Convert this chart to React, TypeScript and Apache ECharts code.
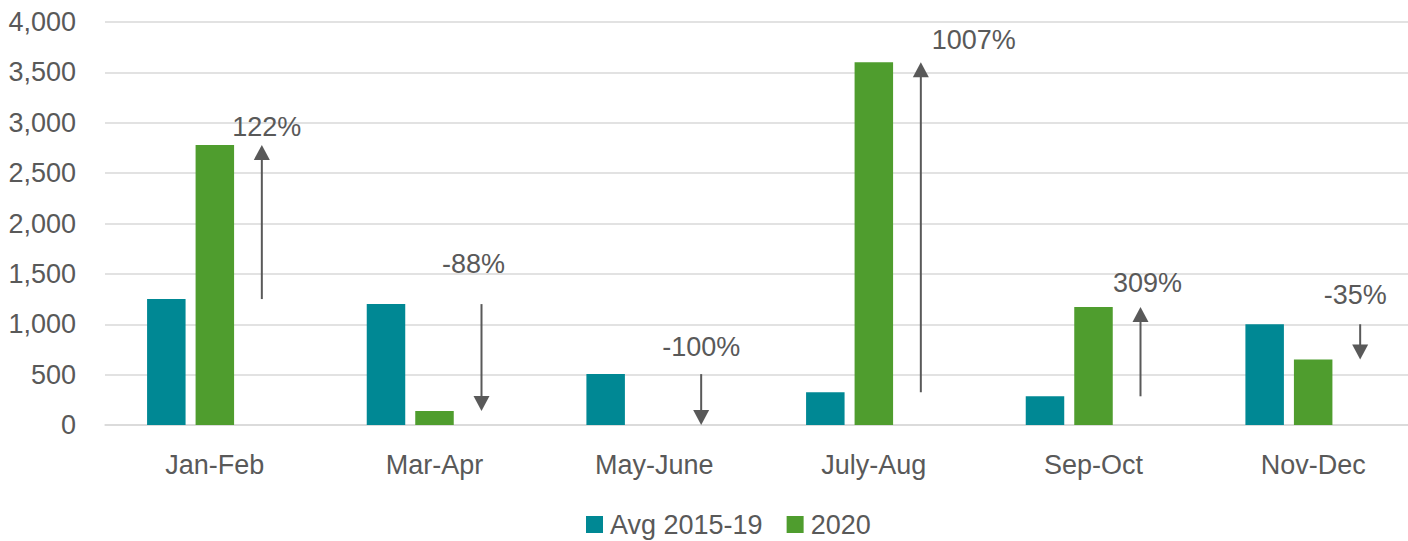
import React, { useEffect, useRef } from "react";
import * as echarts from "echarts";

const categories = ["Jan-Feb", "Mar-Apr", "May-June", "July-Aug", "Sep-Oct", "Nov-Dec"];
const avg2015to19 = [1250, 1200, 505, 325, 285, 1000];
const values2020 = [2780, 140, 0, 3600, 1170, 650];
const changeLabels = ["122%", "-88%", "-100%", "1007%", "309%", "-35%"];
const seriesNames = ["Avg 2015-19", "2020"];

// layout nudges for the change labels [dx, dy] in px
const labelNudge = [
  [5, 7],
  [-8, -15],
  [0, -2],
  [53, 3],
  [7, 1],
  [-5, -4],
];

const FONT = "'Liberation Sans', Arial, sans-serif";
const FS = 27;
const TEXT = "#595959";
const TEAL = "#008894";
const GREEN = "#4F9D2E";

export default function App() {
  const ref = useRef<HTMLDivElement>(null);
  useEffect(() => {
    document.body.style.margin = "0";
    if (!ref.current) return;
    const chart = echarts.init(ref.current, null, { renderer: "svg" });
    const arrowData = categories.map((_, i) => [i, avg2015to19[i], values2020[i]]);
    chart.setOption({
      animation: false,
      textStyle: { fontFamily: FONT },
      grid: { left: 105, right: -15, top: 22, bottom: 116, outerBoundsMode: "none", containLabel: false },
      legend: {
        data: seriesNames,
        left: 586,
        top: 511,
        padding: 0,
        icon: "rect",
        itemWidth: 17,
        itemHeight: 17,
        itemGap: 24,
        textStyle: { fontSize: FS, color: TEXT, fontFamily: FONT, padding: [0, 0, 0, 2] },
      },
      xAxis: {
        type: "category",
        data: categories,
        axisTick: { show: false },
        axisLine: { show: true, lineStyle: { color: "#d9d9d9", width: 1.5 } },
        axisLabel: { fontSize: FS, color: TEXT, margin: 26, fontFamily: FONT },
      },
      yAxis: {
        type: "value",
        min: 0,
        max: 4000,
        interval: 500,
        axisLine: { show: false },
        axisTick: { show: false },
        splitLine: { lineStyle: { color: "#d9d9d9", width: 1.5 } },
        axisLabel: {
          fontSize: FS,
          color: TEXT,
          margin: 29,
          fontFamily: FONT,
          formatter: (v: number) => v.toLocaleString("en-US"),
        },
      },
      series: [
        {
          name: seriesNames[0],
          type: "bar",
          data: avg2015to19,
          barWidth: 38.5,
          barGap: "26%",
          itemStyle: { color: TEAL },
        },
        {
          name: seriesNames[1],
          type: "bar",
          data: values2020,
          barWidth: 38.5,
          barGap: "26%",
          itemStyle: { color: GREEN },
        },
        {
          name: "slot",
          type: "bar",
          data: categories.map(() => null),
          barWidth: 38.5,
          barGap: "26%",
          silent: true,
        },
        {
          name: "change",
          type: "custom",
          data: arrowData,
          encode: { x: 0, y: [1, 2] },
          silent: true,
          z: 10,
          renderItem: (params: any, api: any) => {
            const idx = api.value(0);
            const from = api.value(1);
            const to = api.value(2);
            const label = changeLabels[idx];
            const p0 = api.coord([idx, from]);
            const p1 = api.coord([idx, to]);
            const x = p0[0] + 47;
            const y0 = p0[1];
            const y1 = p1[1];
            const up = y1 < y0;
            const head = 15;
            const hw = 8;
            const lineEnd = up ? y1 + head - 1 : y1 - head + 1;
            const topY = Math.min(y0, y1);
            const nudge = labelNudge[idx];
            return {
              type: "group",
              children: [
                {
                  type: "line",
                  shape: { x1: x, y1: y0, x2: x, y2: lineEnd },
                  style: { stroke: TEXT, lineWidth: 2 },
                },
                {
                  type: "polygon",
                  shape: {
                    points: up
                      ? [[x, y1], [x - hw, y1 + head], [x + hw, y1 + head]]
                      : [[x, y1], [x - hw, y1 - head], [x + hw, y1 - head]],
                  },
                  style: { fill: TEXT },
                },
                {
                  type: "text",
                  x: x + nudge[0],
                  y: topY - 25 + nudge[1],
                  style: {
                    text: label,
                    fill: TEXT,
                    fontSize: FS,
                    fontFamily: FONT,
                    align: "center",
                    verticalAlign: "middle",
                  },
                },
              ],
            };
          },
        },
      ],
    });
    return () => chart.dispose();
  }, []);
  return <div ref={ref} style={{ width: 1408, height: 541 }} />;
}
